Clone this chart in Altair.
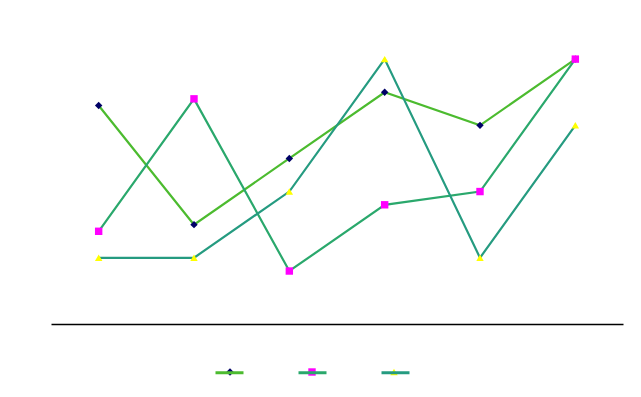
import altair as alt
import pandas as pd

categories = ["1", "2", "3", "4", "5", "6"]
series_names = ["Series 1", "Series 2", "Series 3"]
series_1 = [6.6, 3.0, 5.0, 7.0, 6.0, 8.0]
series_2 = [2.8, 6.8, 1.6, 3.6, 4.0, 8.0]
series_3 = [2.0, 2.0, 4.0, 8.0, 2.0, 6.0]
line_colors = ["#4cbb2f", "#2aa86c", "#259b80"]
marker_colors = ["#000066", "#ff00ff", "#ffff00"]
marker_shapes = ["diamond", "square", "triangle-up"]

rows = []
for name, vals in zip(series_names, [series_1, series_2, series_3]):
    for c, v in zip(categories, vals):
        rows.append({"category": c, "series": name, "value": v})
df = pd.DataFrame(rows)

base = alt.Chart(df).encode(
    x=alt.X("category:O", sort=categories,
            axis=alt.Axis(title=None, labels=False, ticks=False,
                          domainColor="black", domainWidth=1.5, grid=False)),
    y=alt.Y("value:Q", scale=alt.Scale(domain=[0, 9]), axis=None),
)

lines = base.mark_line(strokeWidth=2.2).encode(
    stroke=alt.Stroke("series:N",
                      scale=alt.Scale(domain=series_names, range=line_colors),
                      legend=alt.Legend(orient="none", direction="horizontal",
                                        legendX=163, legendY=331, title=None,
                                        labelExpr="''", labelOffset=0,
                                        symbolType="stroke", symbolSize=784,
                                        symbolStrokeWidth=3, columnPadding=42,
                                        padding=0)),
)

legend_pts = dict(orient="none", direction="horizontal", legendX=174, legendY=341,
                  title=None, labelExpr="''", labelOffset=0, symbolSize=55,
                  symbolStrokeWidth=0, columnPadding=72, padding=0)

points = base.mark_point(filled=True, opacity=1, size=55, strokeWidth=0).encode(
    fill=alt.Fill("series:N",
                  scale=alt.Scale(domain=series_names, range=marker_colors),
                  legend=alt.Legend(**legend_pts)),
    shape=alt.Shape("series:N",
                    scale=alt.Scale(domain=series_names, range=marker_shapes),
                    legend=alt.Legend(**legend_pts)),
)

chart = alt.layer(lines, points).resolve_legend(stroke="independent").properties(
    width=572, height=298,
    autosize=alt.AutoSizeParams(type="none"),
    padding={"left": 43, "top": 18, "right": 10, "bottom": 65},
).configure(background="white").configure_view(strokeWidth=0)

chart.save("out.html", embed_options={"renderer": "svg", "actions": False})
